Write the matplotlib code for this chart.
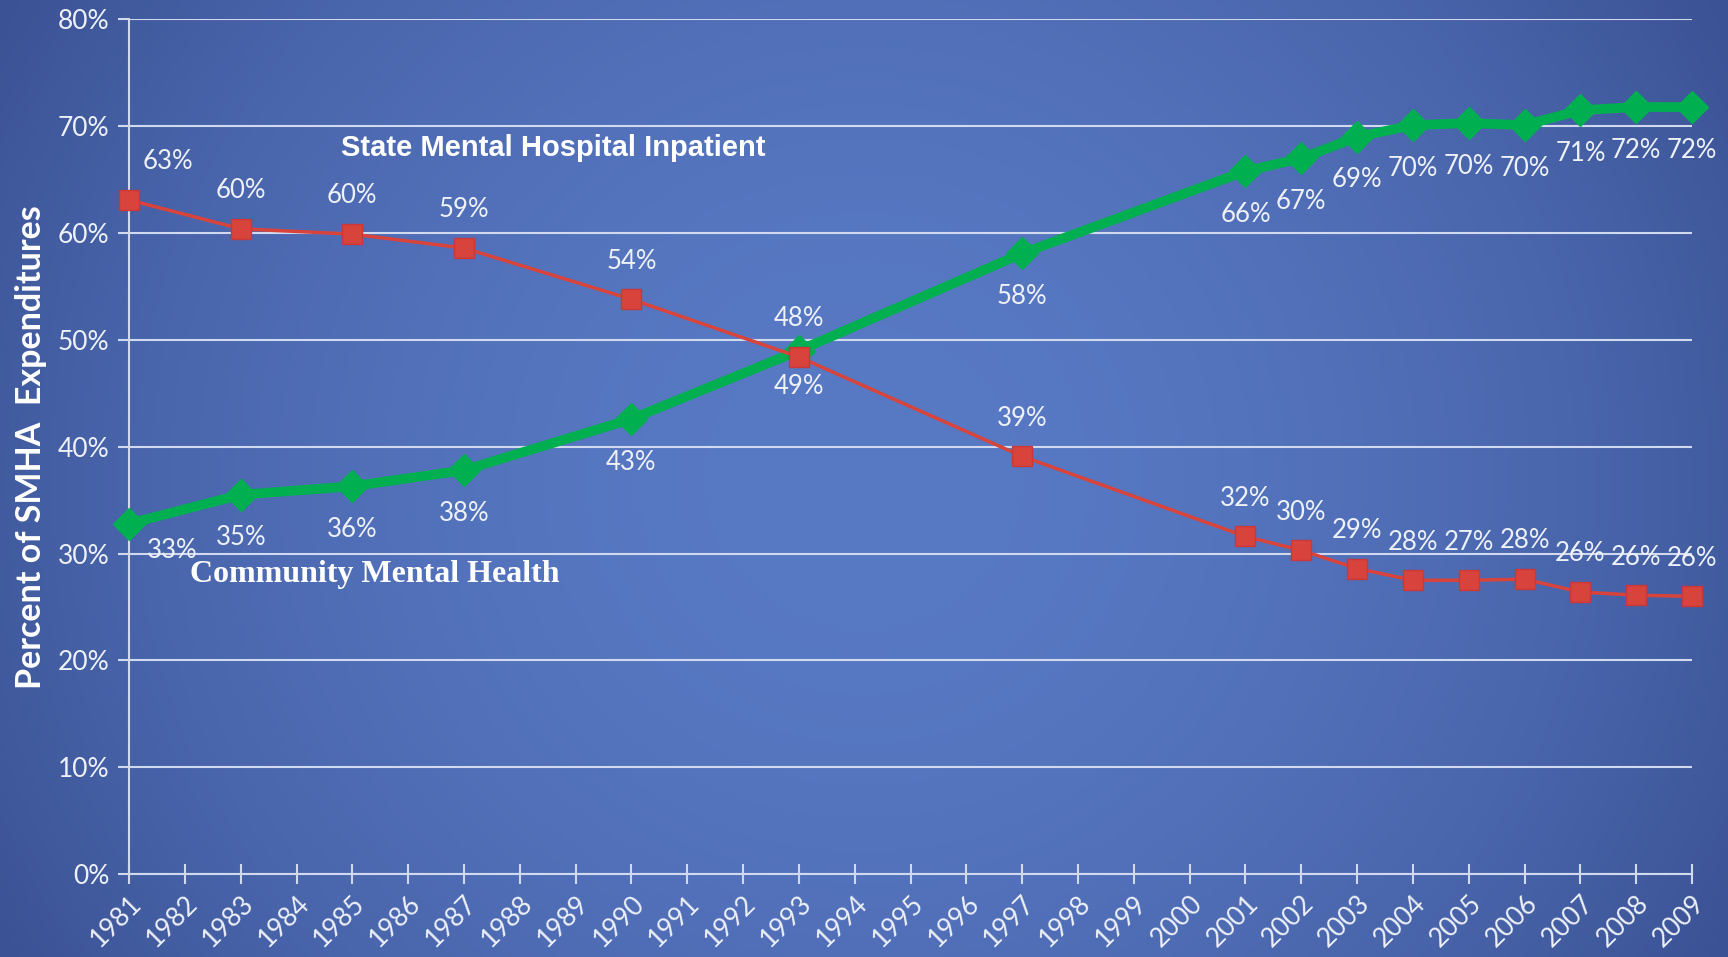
import matplotlib
matplotlib.use('Agg')
import matplotlib.pyplot as plt
import numpy as np

years = [1981, 1983, 1985, 1987, 1990, 1993, 1997, 2001, 2002, 2003, 2004, 2005, 2006, 2007, 2008, 2009]
state_hosp = [63.1, 60.4, 59.9, 58.6, 53.8, 48.4, 39.1, 31.6, 30.3, 28.6, 27.5, 27.5, 27.6, 26.4, 26.1, 26.0]
community = [32.8, 35.5, 36.3, 37.8, 42.6, 49.0, 58.1, 65.8, 67.0, 69.0, 70.1, 70.3, 70.1, 71.5, 71.8, 71.8]
state_labels = ['63%', '60%', '60%', '59%', '54%', '48%', '39%', '32%', '30%', '29%', '28%', '27%', '28%', '26%', '26%', '26%']
comm_labels = ['33%', '35%', '36%', '38%', '43%', '49%', '58%', '66%', '67%', '69%', '70%', '70%', '70%', '71%', '72%', '72%']
all_years = list(range(1981, 2010))

font = 'Lato'
txt_col = '#eef1f8'

fig = plt.figure(figsize=(17.28, 9.57), dpi=100)

# gradient background
bg = fig.add_axes([0, 0, 1, 1], zorder=0)
xx = np.linspace(-1, 1, 400)
yy = np.linspace(-1, 1, 220)
X, Y = np.meshgrid(xx, yy)
t = np.clip(1 - 0.75 * X**2 - 0.25 * Y**2, 0, 1)
c0 = np.array([0x3b, 0x52, 0x94]) / 255
c1 = np.array([0x58, 0x79, 0xc4]) / 255
img = c0[None, None, :] + (c1 - c0)[None, None, :] * t[:, :, None]
bg.imshow(img, aspect='auto', extent=[0, 1, 0, 1])
bg.axis('off')

ax = fig.add_axes([0.0747, 0.0867, 0.9045, 0.893], zorder=1)
ax.patch.set_alpha(0)

ax.plot(years, state_hosp, color='#d8443c', lw=2.5, marker='s', ms=14,
        mfc='#d8443c', mec='#c8383a', zorder=4, clip_on=False)
ax.plot(years, community, color='#00b050', lw=7, marker='D', ms=16,
        mfc='#00b050', mec='#00b050', zorder=3, clip_on=False)

for i, (x, y, s) in enumerate(zip(years, state_hosp, state_labels)):
    dx = 28 if i == 0 else 0
    ax.annotate(s, (x, y), xytext=(dx, 27.5), textcoords='offset points',
                ha='center', va='center', color=txt_col, fontsize=18.5, family=font, zorder=5)
for i, (x, y, s) in enumerate(zip(years, community, comm_labels)):
    dx, dy = (31, -19) if i == 0 else (0, -31)
    if x == 1993:
        dy = -26
    ax.annotate(s, (x, y), xytext=(dx, dy), textcoords='offset points',
                ha='center', va='center', color=txt_col, fontsize=18.5, family=font, zorder=5)

ax.set_xlim(1981, 2009)
ax.set_ylim(0, 80)
ax.set_yticks(range(0, 81, 10))
ax.set_yticklabels([f'{v}%' for v in range(0, 81, 10)], family=font, fontsize=19, color=txt_col)
ax.set_xticks(all_years)
ax.set_xticklabels([str(y) for y in all_years], rotation=45, ha='right', rotation_mode='anchor',
                   family=font, fontsize=19, color=txt_col)
ax.grid(axis='y', color='#d0d9ee', lw=1.5)
ax.set_axisbelow(True)
for side in ['top', 'right']:
    ax.spines[side].set_visible(False)
for side in ['left', 'bottom']:
    ax.spines[side].set_color('#d0d9ee')
    ax.spines[side].set_linewidth(1.5)
ax.tick_params(axis='x', direction='inout', length=14, width=1.5, color='#d0d9ee', pad=5)
ax.tick_params(axis='y', direction='out', length=8, width=1.5, color='#d0d9ee', pad=6)

ax.set_ylabel('Percent of SMHA  Expenditures', family=font, fontsize=24.5, fontweight='bold',
              color='white', labelpad=8)

ax.text(1984.8, 68.0, 'State Mental Hospital Inpatient', family='Liberation Sans',
        fontsize=21, fontweight='bold', color='white', va='center', zorder=5)
ax.text(1982.1, 28.0, 'Community Mental Health', family='Liberation Serif',
        fontsize=23, fontweight='bold', color='white', va='center', zorder=5)

fig.savefig('out.png', dpi=100)
